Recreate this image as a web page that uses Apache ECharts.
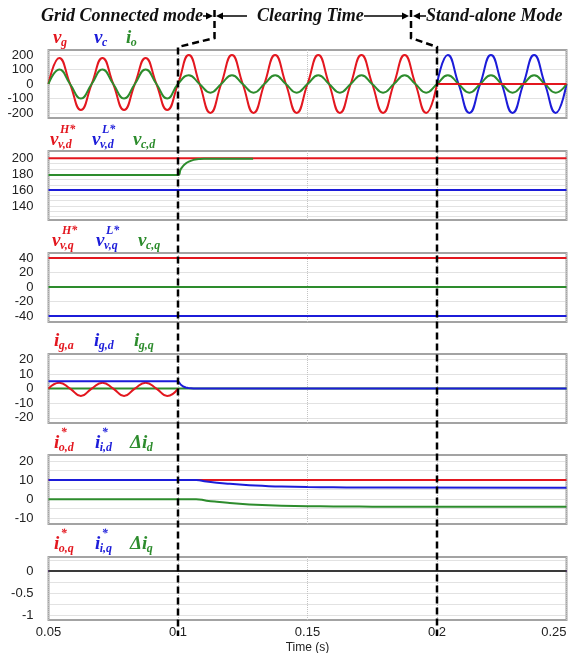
<!DOCTYPE html>
<html>
<head>
<meta charset="utf-8">
<script src="https://cdn.jsdelivr.net/npm/echarts@6/dist/echarts.min.js"></script>
<style>
html, body { margin: 0; padding: 0; background: #fff; }
#main { width: 570px; height: 653px; }
</style>
</head>
<body>
<div id="main"></div>
<script>
var chart = echarts.init(document.getElementById('main'));

// time samples, one every quarter cycle (60 Hz)
var t = [0.05, 0.05417, 0.05833, 0.0625, 0.06667, 0.07083, 0.075, 0.07917, 0.08333, 0.0875, 0.09167, 0.09583, 0.1,
         0.10417, 0.10833, 0.1125, 0.11667, 0.12083, 0.125, 0.12917, 0.13333, 0.1375, 0.14167, 0.14583, 0.15,
         0.15417, 0.15833, 0.1625, 0.16667, 0.17083, 0.175, 0.17917, 0.18333, 0.1875, 0.19167, 0.19583, 0.2,
         0.20417, 0.20833, 0.2125, 0.21667, 0.22083, 0.225, 0.22917, 0.23333, 0.2375, 0.24167, 0.24583, 0.25];
var tEnds = [0.05, 0.25];
var tOff = [0.2, 0.25];

// panel 1 : vg, vc, io
var vg = [0, 180, 0, -180, 0, 180, 0, -180, 0, 180, 0, -180, 0,
          200, 0, -200, 0, 200, 0, -200, 0, 200, 0, -200, 0,
          200, 0, -200, 0, 200, 0, -200, 0, 200, 0, -200, 0];
var vgOff = [0, 0];
var vc = [0, 200, 0, -200, 0, 200, 0, -200, 0, 200, 0, -200, 0];
var io = [0, 100, 0, -100, 0, 100, 0, -100, 0, 100, 0, -100, 0,
          60, 0, -60, 0, 60, 0, -60, 0, 60, 0, -60, 0,
          60, 0, -60, 0, 60, 0, -60, 0, 60, 0, -60, 0,
          60, 0, -60, 0, 60, 0, -60, 0, 60, 0, -60, 0];

// panel 2 : d-axis voltage refs
var vdH = [200, 200];
var vdL = [160, 160];
var tVcd = [0.05, 0.1, 0.101, 0.102, 0.103, 0.104, 0.106, 0.108, 0.11, 0.129];
var vcd = [179, 179, 186, 190.5, 193.5, 195.5, 198, 199, 199.5, 199.5];

// panel 3 : q-axis voltage refs
var vqH = [40, 40];
var vqL = [-40, -40];
var vcq = [0, 0];

// panel 4 : grid currents
var tIga = [0.05, 0.05417, 0.05833, 0.0625, 0.06667, 0.07083, 0.075, 0.07917, 0.08333, 0.0875, 0.09167, 0.09583, 0.1];
var iga = [0, 4, 0, -5, 0, 4, 0, -5, 0, 4, 0, -5, 0];
var tIgd = [0.05, 0.1, 0.101, 0.102, 0.103, 0.104, 0.106, 0.108, 0.25];
var igd = [5, 5, 2.8, 1.4, 0.7, 0.35, 0.08, 0, 0];
var igq = [0, 0];

// panel 5 : d-axis currents
var iod = [10, 10];
var tIid = [0.05, 0.107, 0.111, 0.115, 0.12, 0.125, 0.13, 0.135, 0.14, 0.15, 0.16, 0.17, 0.18, 0.25];
var iid = [10, 10, 9.2, 8.6, 8.0, 7.5, 7.1, 6.8, 6.6, 6.35, 6.2, 6.1, 6.05, 6];
var did = [0, 0, -0.8, -1.4, -2.0, -2.5, -2.9, -3.2, -3.4, -3.65, -3.8, -3.9, -3.95, -4];

// panel 6 : q-axis currents
var ioq = [0, 0];
var iiq = [0, 0];
var diq = [0, 0];

// axis ticks
var yLabels = [
    [-200, -100, 0, 100, 200],
    [140, 160, 180, 200],
    [-40, -20, 0, 20, 40],
    [-20, -10, 0, 10, 20],
    [-10, 0, 10, 20],
    [-1, -0.5, 0]
];
var yLines = [
    [-200, -100, 0, 100, 200],
    [126.67, 133.33, 140, 146.67, 153.33, 160, 166.67, 173.33, 180, 186.67, 193.33, 200],
    [-40, -20, 0, 20, 40],
    [-20, -10, 0, 10, 20],
    [-10, -5, 0, 5, 10, 15, 20],
    [-1, -0.75, -0.5, -0.25, 0, 0.25]
];
var yRanges = [[-235, 235], [122.4, 209.2], [-48.3, 46.9], [-23.5, 23.6], [-13, 23.1], [-1.114, 0.32]];

var RED = '#e3171f', BLUE = '#1c1cd9', GREEN = '#2d8c2d', DARK = '#3a3a3a';
var tops = [50, 151, 253, 354, 455, 557];
var heights = [68, 69, 69, 69, 69, 63];

function pairs(xs, ys) {
    return ys.map(function (v, i) { return [xs[i], v]; });
}
function line(p, xs, ys, color, smooth) {
    return {
        type: 'line', xAxisIndex: p, yAxisIndex: p,
        data: pairs(xs, ys),
        symbol: 'none', smooth: smooth ? 0.5 : false,
        lineStyle: { color: color, width: 2 },
        animation: false
    };
}

var grids = [], xAxes = [], yAxes = [];
for (var p = 0; p < 6; p++) {
    grids.push({
        left: 48.5, right: 3.5, top: tops[p], height: heights[p],
        show: true, borderColor: '#a3a3a3', borderWidth: 2, backgroundColor: '#fff',
        outerBoundsMode: 'none'
    });
    xAxes.push({
        type: 'value', gridIndex: p, min: 0.05, max: 0.25, interval: 0.05,
        axisLine: { show: false }, axisTick: { show: false },
        axisLabel: { show: p === 5, fontSize: 13, color: '#222', margin: 6, fontFamily: 'Liberation Sans', alignMaxLabel: 'right' },
        splitLine: { show: true, lineStyle: { type: 'dotted', color: '#c4c4c4', width: 1 } },
        name: p === 5 ? 'Time (s)' : '', nameLocation: 'middle', nameGap: 22,
        nameTextStyle: { fontSize: 12, color: '#222', fontFamily: 'Liberation Sans' }
    });
    yAxes.push({
        type: 'value', gridIndex: p, min: yRanges[p][0], max: yRanges[p][1],
        axisLine: { show: false },
        axisTick: { show: false, customValues: yLines[p] },
        axisLabel: { customValues: yLabels[p], fontSize: 13, color: '#222', margin: 15, fontFamily: 'Liberation Sans' },
        splitLine: { show: true, lineStyle: { type: 'dotted', color: '#c4c4c4', width: 1 } }
    });
}

var series = [
    line(0, t.slice(36), vc, BLUE, true),
    line(0, t, vg, RED, true),
    line(0, t, io, GREEN, true),
    line(0, tOff, vgOff, RED, false),

    line(1, tEnds, vdH, RED, false),
    line(1, tEnds, vdL, BLUE, false),
    line(1, tVcd, vcd, GREEN, true),

    line(2, tEnds, vqH, RED, false),
    line(2, tEnds, vqL, BLUE, false),
    line(2, tEnds, vcq, GREEN, false),

    line(3, tEnds, igq, GREEN, false),
    line(3, tIga, iga, RED, true),
    line(3, tIgd, igd, BLUE, false),

    line(4, tEnds, iod, RED, false),
    line(4, tIid, did, GREEN, true),
    line(4, tIid, iid, BLUE, true),

    line(5, tEnds, ioq, RED, false),
    line(5, tEnds, iiq, BLUE, false),
    line(5, tEnds, diq, DARK, false)
];

var option = {
    backgroundColor: '#fff',
    animation: false,
    grid: grids,
    xAxis: xAxes,
    yAxis: yAxes,
    series: series
};
chart.setOption(option);

// ---- annotations ----
var SERIF = '"Liberation Serif", "DejaVu Serif", serif';
var mctx = document.createElement('canvas').getContext('2d');
function textW(s, size) {
    mctx.font = 'italic bold ' + size + 'px ' + SERIF;
    return mctx.measureText(s).width;
}
function txt(x, y, s, size, color) {
    return {
        type: 'text', x: x, y: y, silent: true,
        style: {
            text: s, fill: color, fontSize: size, fontStyle: 'italic', fontWeight: 'bold',
            fontFamily: SERIF, align: 'left', verticalAlign: 'middle',
            textAlign: 'left', textVerticalAlign: 'middle'
        }
    };
}
// math-style symbol: base with subscript and optional superscript
function sym(x, y, base, sub, sup, color) {
    var w = textW(base, 19);
    var out = [txt(x, y, base, 19, color), txt(x + w - 0.5, y + 5, sub, 12, color)];
    if (sup) out.push(txt(x + w + 1.5, y - 10, sup, 12, color));
    return out;
}
function arrow(x0, x1, y) {
    var d = x1 > x0 ? 1 : -1;
    return [
        { type: 'line', shape: { x1: x0, y1: y, x2: x1 - d * 5, y2: y }, style: { stroke: '#000', lineWidth: 1.5 } },
        { type: 'polygon', shape: { points: [[x1, y], [x1 - d * 7, y - 3.5], [x1 - d * 7, y + 3.5]] }, style: { fill: '#000' } }
    ];
}

var symRows = [
    [38, [[53, 'v', 'g', '', RED], [94, 'v', 'c', '', BLUE], [126, 'i', 'o', '', GREEN]]],
    [140, [[50, 'v', 'v,d', 'H*', RED], [92, 'v', 'v,d', 'L*', BLUE], [133, 'v', 'c,d', '', GREEN]]],
    [241, [[52, 'v', 'v,q', 'H*', RED], [96, 'v', 'v,q', 'L*', BLUE], [138, 'v', 'c,q', '', GREEN]]],
    [341, [[54, 'i', 'g,a', '', RED], [94, 'i', 'g,d', '', BLUE], [134, 'i', 'g,q', '', GREEN]]],
    [443, [[54, 'i', 'o,d', '*', RED], [95, 'i', 'i,d', '*', BLUE], [130, '\u0394i', 'd', '', GREEN]]],
    [544, [[54, 'i', 'o,q', '*', RED], [95, 'i', 'i,q', '*', BLUE], [130, '\u0394i', 'q', '', GREEN]]]
];

var x1 = chart.convertToPixel({ xAxisIndex: 0 }, 0.1);
var x2 = chart.convertToPixel({ xAxisIndex: 0 }, 0.2);

var g = [];
g.push({
    type: 'polyline', z: 100,
    shape: { points: [[214.5, 10], [214.5, 38], [x1, 47], [x1, 636]] },
    style: { stroke: '#000', lineWidth: 2.5, lineDash: [7, 4], fill: null }
});
g.push({
    type: 'polyline', z: 100,
    shape: { points: [[411, 10], [411, 38], [x2, 47], [x2, 636]] },
    style: { stroke: '#000', lineWidth: 2.5, lineDash: [7, 4], fill: null }
});
g.push(txt(41, 16, 'Grid Connected mode', 18, '#111'));
g.push(txt(257, 16, 'Clearing Time', 18, '#111'));
g.push(txt(426, 16, 'Stand-alone Mode', 18, '#111'));
g = g.concat(arrow(203, 213, 16), arrow(247, 216, 16), arrow(364, 409, 16), arrow(426, 413, 16));
symRows.forEach(function (row) {
    row[1].forEach(function (s) {
        g = g.concat(sym(s[0], row[0], s[1], s[2], s[3], s[4]));
    });
});
chart.setOption({ graphic: g });
</script>
</body>
</html>
